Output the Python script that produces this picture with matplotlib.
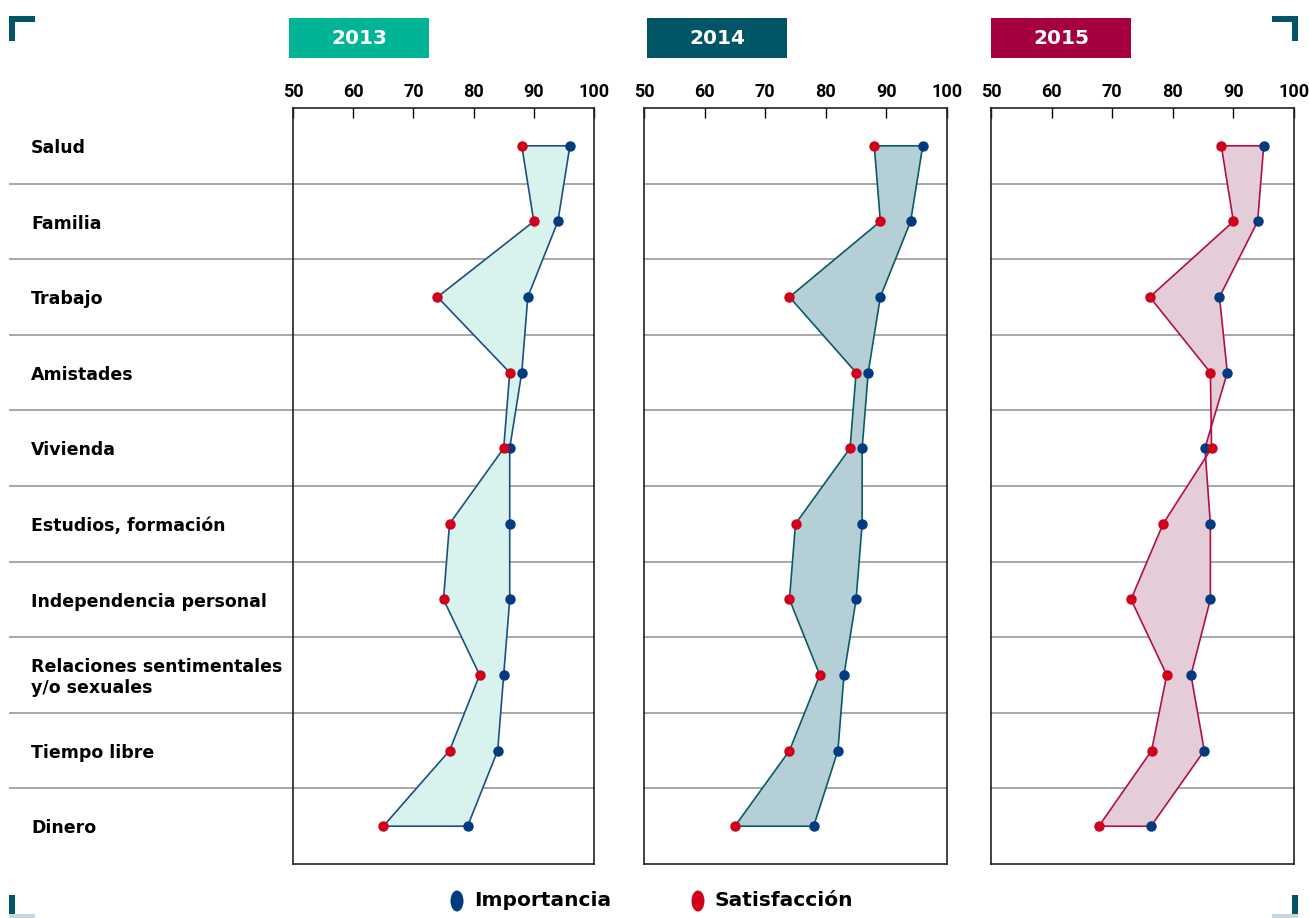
import matplotlib.pyplot as plt
from matplotlib.patches import Polygon, Rectangle, Ellipse
import matplotlib.transforms as mtransforms

categories = [
    "Salud", "Familia", "Trabajo", "Amistades", "Vivienda",
    "Estudios, formación", "Independencia personal",
    "Relaciones sentimentales\ny/o sexuales", "Tiempo libre", "Dinero",
]
years = ["2013", "2014", "2015"]

importancia_2013 = [96.0, 94.0, 89.0, 88.0, 86.0, 86.0, 86.0, 85.0, 84.0, 79.0]
satisfaccion_2013 = [88.0, 90.0, 74.0, 86.0, 85.0, 76.0, 75.0, 81.0, 76.0, 65.0]
importancia_2014 = [96.0, 94.0, 89.0, 87.0, 86.0, 86.0, 85.0, 83.0, 82.0, 78.0]
satisfaccion_2014 = [88.0, 89.0, 74.0, 85.0, 84.0, 75.0, 74.0, 79.0, 74.0, 65.0]
importancia_2015 = [95.0, 94.0, 87.7, 89.0, 85.3, 86.2, 86.2, 83.0, 85.2, 76.4]
satisfaccion_2015 = [88.0, 90.0, 76.2, 86.2, 86.4, 78.4, 73.1, 79.0, 76.5, 67.8]

x_ticks = [50, 60, 70, 80, 90, 100]

importancia = [importancia_2013, importancia_2014, importancia_2015]
satisfaccion = [satisfaccion_2013, satisfaccion_2014, satisfaccion_2015]

header_colors = ["#00b495", "#005566", "#a50040"]
fill_colors = ["#d8f2ee", "#b4cfd6", "#e4ccd8"]
edge_colors = ["#1f4f7f", "#0b5a66", "#b0104a"]
blue = "#003a80"
red = "#d0021b"
bracket = "#005566"
narrow = ["Liberation Sans Narrow", "Roboto", "DejaVu Sans"]

W, H = 1309, 918
fig = plt.figure(figsize=(W / 100, H / 100), dpi=100)
plt.rcParams["font.family"] = ["DejaVu Sans"]

# panel boxes in pixels: (left, right)
panels = [(293, 594), (644, 947), (991, 1294)]
top_px, bottom_px = 108, 864
headers = [(289, 429), (647, 787), (991, 1131)]

n = len(categories)
ypos = [i + 0.5 for i in range(n)]

for k, (left, right) in enumerate(panels):
    ax = fig.add_axes([left / W, (H - bottom_px) / H, (right - left) / W,
                       (bottom_px - top_px) / H])
    ax.set_xlim(50, 100)
    ax.set_ylim(n, 0)
    ax.xaxis.tick_top()
    ax.set_xticks(x_ticks)
    ax.set_xticklabels([str(t) for t in x_ticks], fontsize=13,
                       fontweight="bold", family=narrow)
    ax.tick_params(axis="x", direction="in", length=7, width=1, pad=5)
    ax.set_yticks([])
    for s in ax.spines.values():
        s.set_color("#222222")
        s.set_linewidth(1.2)

    # row separators
    trans = mtransforms.blended_transform_factory(ax.transAxes, ax.transData)
    x0 = -(left - 10) / (right - left) if k == 0 else 0
    for b in range(1, n):
        ax.plot([x0, 1], [b, b], color="#a0a0a0", lw=1.3, transform=trans,
                clip_on=False, zorder=1)

    imp = importancia[k]
    sat = satisfaccion[k]
    pts = list(zip(imp, ypos)) + list(zip(sat[::-1], ypos[::-1]))
    ax.add_patch(Polygon(pts, closed=True, facecolor=fill_colors[k],
                         edgecolor=edge_colors[k], lw=1.2, zorder=2))
    ax.plot(imp, ypos, "o", color=blue, ms=6.5, zorder=3)
    ax.plot(sat, ypos, "o", color=red, ms=6.5, zorder=3)

    hl, hr = headers[k]
    fig.patches.append(Rectangle((hl / W, (H - 58) / H), (hr - hl) / W, 40 / H,
                                 transform=fig.transFigure,
                                 facecolor=header_colors[k], edgecolor="none"))
    fig.text((hl + hr) / 2 / W, (H - 38) / H, years[k], color="white",
             fontsize=14.5, fontweight="bold", ha="center", va="center")

# category labels
ax0 = fig.axes[0]
lab_trans = mtransforms.blended_transform_factory(ax0.transAxes, ax0.transData)
for label, y in zip(categories, ypos):
    ax0.text(-(293 - 31) / (594 - 293), y + 0.03, label, fontsize=12.5,
             fontweight="bold", ha="left", va="center", linespacing=1.2,
             transform=lab_trans)


# corner brackets
def frac(x, y):
    return x / W, (H - y) / H


def bar(x1, y1, x2, y2, color=bracket):
    fig.patches.append(Rectangle(frac(x1, y2), (x2 - x1) / W, (y2 - y1) / H,
                                 transform=fig.transFigure, facecolor=color,
                                 edgecolor="none"))


bar(9, 16, 35, 22)
bar(9, 16, 15, 41)
bar(1272, 16, 1298, 22)
bar(1292, 16, 1298, 41)
bar(9, 895, 15, 918)
bar(1292, 895, 1298, 918)
bar(9, 914, 35, 918, "#c8d8dc")
bar(1272, 914, 1298, 918, "#c8d8dc")

# legend
for cx, color, text in [(457, blue, "Importancia"), (698, red, "Satisfacción")]:
    fig.patches.append(Ellipse(frac(cx, 901), 13 / W, 21 / H,
                               transform=fig.transFigure, facecolor=color,
                               edgecolor="none"))
    fig.text((cx + 17) / W, (H - 901) / H, text, fontsize=14.5,
             fontweight="bold", ha="left", va="center")

fig.savefig("out.png", dpi=100)
